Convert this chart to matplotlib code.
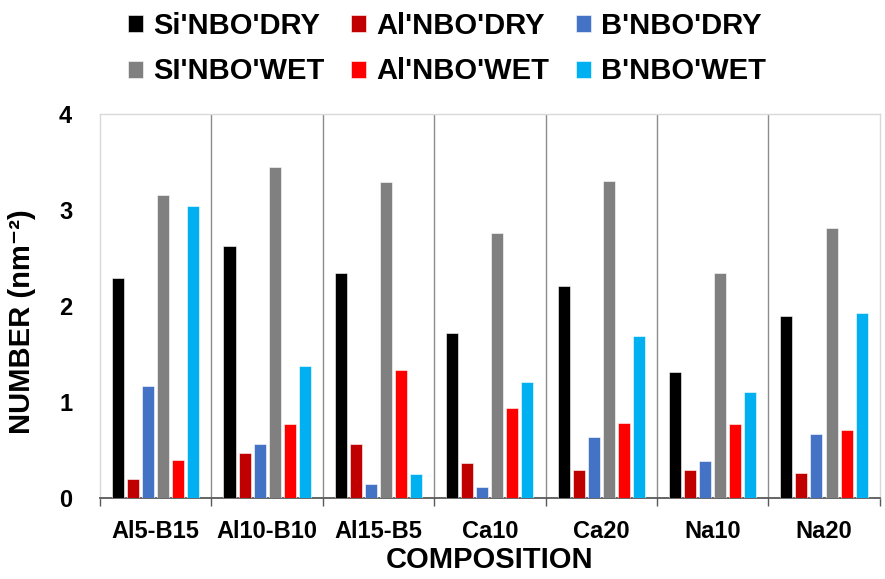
import numpy as np
import matplotlib
matplotlib.use("Agg")
import matplotlib.pyplot as plt

plt.rcParams['font.family'] = ['Liberation Sans', 'DejaVu Sans']
plt.rcParams['font.weight'] = 'bold'

comps = ["Al5-B15", "Al10-B10", "Al15-B5", "Ca10", "Ca20", "Na10", "Na20"]

si_dry = [2.29, 2.63, 2.34, 1.72, 2.21, 1.31, 1.90]
al_dry = [0.20, 0.47, 0.56, 0.36, 0.29, 0.29, 0.26]
b_dry = [1.17, 0.56, 0.15, 0.11, 0.64, 0.39, 0.67]
si_wet = [3.16, 3.45, 3.29, 2.76, 3.30, 2.34, 2.81]
al_wet = [0.40, 0.77, 1.33, 0.94, 0.78, 0.77, 0.71]
b_wet = [3.04, 1.37, 0.25, 1.21, 1.69, 1.10, 1.93]

series = [si_dry, al_dry, b_dry, si_wet, al_wet, b_wet]
names = ["Si'NBO'DRY", "Al'NBO'DRY", "B'NBO'DRY",
         "SI'NBO'WET", "Al'NBO'WET", "B'NBO'WET"]
colors = ["#000000", "#C00000", "#4472C4", "#808080", "#FF0000", "#00B0F0"]

fig = plt.figure(figsize=(8.85, 5.79), dpi=100)
ax = fig.add_axes([0.113, 0.140, 0.881, 0.663])

x = np.arange(len(comps))
pitch = 0.135
w = 0.108
handles = []
for i, (vals, col, nm) in enumerate(zip(series, colors, names)):
    off = (i - 2.5) * pitch
    b = ax.bar(x + off, vals, w, color=col, edgecolor="white", linewidth=0.4, label=nm, zorder=3)
    handles.append(b)

ax.set_xlim(-0.5, len(comps) - 0.5)
ax.set_ylim(0, 4)
ax.set_yticks([0, 1, 2, 3, 4])

# separators between compositions
for b in np.arange(0.5, len(comps) - 0.5, 1):
    ax.axvline(b, color="#8c8c8c", linewidth=1.0, zorder=1)

ax.set_xticks(x)
ax.set_xticklabels(comps, fontsize=17, fontweight="bold")
ax.set_xticks(np.arange(-0.5, len(comps), 1), minor=True)
ax.tick_params(axis="x", which="major", length=0, pad=16)
ax.tick_params(axis="x", which="minor", length=6, width=1, color="#595959", direction="out")
ax.tick_params(axis="y", length=0, pad=20, labelsize=17)
for t in ax.get_yticklabels():
    t.set_fontweight("bold")

for s in ["left", "top", "right"]:
    ax.spines[s].set_color("#d9d9d9")
    ax.spines[s].set_linewidth(1.0)
ax.spines["bottom"].set_color("#595959")
ax.spines["bottom"].set_linewidth(1.3)

ax.set_xlabel("COMPOSITION", fontsize=21, fontweight="bold", labelpad=2)
ax.set_ylabel("NUMBER (nm⁻²)", fontsize=21, fontweight="bold")
ax.yaxis.set_label_coords(-0.082, 0.46)

# matplotlib fills legend columns first, so reorder to get rows
order = [0, 3, 1, 4, 2, 5]
fig.legend(handles=[handles[k] for k in order], labels=[names[k] for k in order],
           loc="center", bbox_to_anchor=(0.505, 0.916), ncol=3,
           frameon=False, handlelength=0.52, handleheight=0.52,
           handletextpad=0.35, columnspacing=0.9, labelspacing=0.6,
           borderpad=0.2, prop={"weight": "bold", "size": 21})

fig.savefig("out.png", dpi=100)
